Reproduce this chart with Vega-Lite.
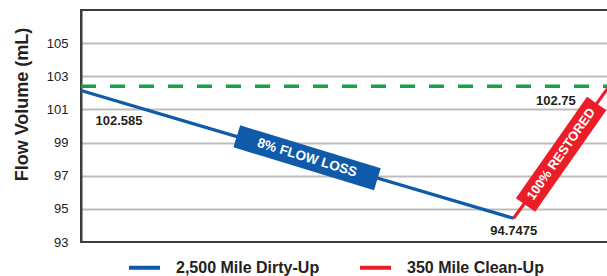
{
  "$schema": "https://vega.github.io/schema/vega-lite/v6.json",
  "width": 527,
  "height": 232,
  "autosize": {"type": "none"},
  "padding": {"left": 81, "top": 10, "right": 0, "bottom": 34},
  "config": {
    "view": {"stroke": "#3c3c3c", "strokeWidth": 2},
    "font": "Liberation Sans"
  },
  "encoding": {
    "x": {"field": "x", "type": "quantitative", "scale": {"domain": [0, 100], "nice": false}, "axis": null},
    "y": {
      "field": "flow",
      "type": "quantitative",
      "scale": {"domain": [93, 107], "nice": false, "zero": false},
      "axis": {
        "values": [93, 95, 97, 99, 101, 103, 105],
        "title": "Flow Volume (mL)",
        "titleFontSize": 18,
        "titleFontWeight": "bold",
        "titleColor": "#222222",
        "titleX": -59,
        "titleY": 94,
        "titleAngle": -90,
        "titleAlign": "center",
        "titleBaseline": "middle",
        "labelFontSize": 13,
        "labelColor": "#222222",
        "labelPadding": 13,
        "ticks": false,
        "tickSize": 0,
        "domainColor": "#3c3c3c",
        "domainWidth": 2,
        "gridColor": {"condition": {"test": "datum.value === 93", "value": "transparent"}, "value": "#bdbdbd"},
        "gridWidth": 2
      }
    }
  },
  "layer": [
    {
      "data": {"values": [{"x": 0, "x2": 100, "flow": 102.4}]},
      "mark": {"type": "rule", "color": "#17a24a", "strokeWidth": 3.5, "strokeDash": [15, 14]},
      "encoding": {"x2": {"field": "x2"}}
    },
    {
      "data": {"values": [
        {"series": "2,500 Mile Dirty-Up", "x": 0, "flow": 102.14},
        {"series": "2,500 Mile Dirty-Up", "x": 82.1, "flow": 94.43},
        {"series": "350 Mile Clean-Up", "x": 82.1, "flow": 94.43},
        {"series": "350 Mile Clean-Up", "x": 100, "flow": 102.3}
      ]},
      "mark": {"type": "line", "strokeWidth": 3.2},
      "encoding": {
        "color": {
          "field": "series",
          "type": "nominal",
          "scale": {"domain": ["2,500 Mile Dirty-Up", "350 Mile Clean-Up"], "range": ["#105aaa", "#eb1e28"]},
          "legend": {
            "orient": "none",
            "legendX": 46,
            "legendY": 240,
            "direction": "horizontal",
            "title": null,
            "symbolType": "stroke",
            "symbolSize": 961,
            "symbolStrokeWidth": 4,
            "labelFontSize": 16,
            "labelFontWeight": "bold",
            "labelColor": "#222222",
            "labelOffset": 14,
            "columnPadding": 32,
            "padding": 0,
            "labelBaseline": "middle",
            "labelLimit": 300
          }
        }
      }
    },
    {
      "data": {"values": [{"x": 42.9, "flow": 98.08, "label": "8% FLOW LOSS"}]},
      "layer": [
        {
          "mark": {"type": "point", "shape": "M-1,-0.156H1V0.156H-1Z", "size": 21609, "angle": 17, "filled": true, "color": "#105aaa", "opacity": 1, "strokeWidth": 0}
        },
        {
          "mark": {"type": "text", "angle": 17, "color": "white", "fontSize": 13.5, "fontWeight": "bold", "align": "center", "baseline": "middle"},
          "encoding": {"text": {"field": "label"}}
        }
      ]
    },
    {
      "data": {"values": [{"x": 91.1, "flow": 98.3, "label": "100% RESTORED"}]},
      "layer": [
        {
          "mark": {"type": "point", "shape": "M-1,-0.19H1V0.19H-1Z", "size": 15376, "angle": -55, "filled": true, "color": "#eb1e28", "opacity": 1, "strokeWidth": 0}
        },
        {
          "mark": {"type": "text", "angle": -55, "color": "white", "fontSize": 13, "fontWeight": "bold", "align": "center", "baseline": "middle"},
          "encoding": {"text": {"field": "label"}}
        }
      ]
    },
    {
      "data": {"values": [
        {"x": 7.2, "flow": 100.31, "label": "102.585"},
        {"x": 82.1, "flow": 93.68, "label": "94.7475"},
        {"x": 90.1, "flow": 101.53, "label": "102.75"}
      ]},
      "mark": {"type": "text", "color": "#231f20", "fontSize": 13, "fontWeight": "bold", "align": "center", "baseline": "middle"},
      "encoding": {"text": {"field": "label"}}
    }
  ]
}
